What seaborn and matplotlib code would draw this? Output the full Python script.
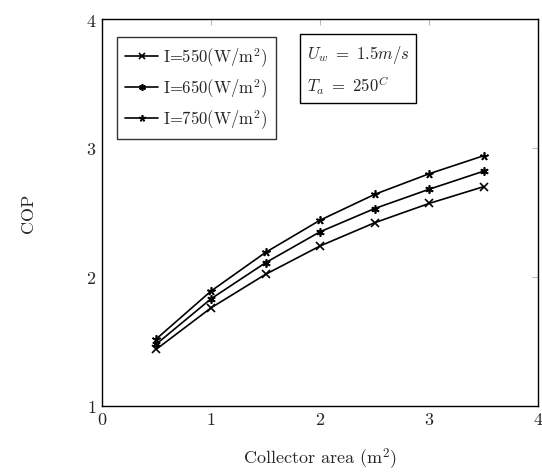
import pandas as pd
import numpy as np
import matplotlib
matplotlib.use("Agg")
import matplotlib.pyplot as plt
import seaborn as sns

# collector area (m^2)
area = [0.5, 1.0, 1.5, 2.0, 2.5, 3.0, 3.5]
# COP for each irradiance
cop_550 = [1.44, 1.76, 2.02, 2.24, 2.42, 2.57, 2.70]
cop_650 = [1.48, 1.83, 2.11, 2.35, 2.53, 2.68, 2.82]
cop_750 = [1.52, 1.89, 2.19, 2.44, 2.64, 2.80, 2.94]
labels = ["I=550(W/m$^2$)", "I=650(W/m$^2$)", "I=750(W/m$^2$)"]

df = pd.DataFrame({
    "area": area * 3,
    "cop": cop_550 + cop_650 + cop_750,
    "series": [labels[0]] * 7 + [labels[1]] * 7 + [labels[2]] * 7,
})

sns.set_style("white")
plt.rcParams["font.family"] = "serif"
plt.rcParams["font.serif"] = ["cmr10", "DejaVu Serif"]
plt.rcParams["mathtext.fontset"] = "cm"
plt.rcParams["axes.formatter.use_mathtext"] = True

fig = plt.figure(figsize=(5.42, 4.77), dpi=100)
ax = fig.add_axes([0.188, 0.147, 0.805, 0.811])

markers = {labels[0]: "x", labels[1]: (6, 2, 0), labels[2]: (5, 2, 0)}
sns.lineplot(data=df, x="area", y="cop", style="series", markers=markers,
             dashes=False, color="black", linewidth=1.2, markersize=6,
             markeredgewidth=1.2, markeredgecolor="black", ax=ax)

ax.set_xlim(0, 4)
ax.set_ylim(1, 4)
ax.set_xticks([0, 1, 2, 3, 4])
ax.set_yticks([1, 2, 3, 4])
ax.tick_params(direction="in", top=True, right=True, length=4,
               color="#bbbbbb", labelsize=13, pad=4)
for s in ax.spines.values():
    s.set_color("black")
    s.set_linewidth(1.0)

ax.set_xlabel("Collector area (m$^2$)", fontsize=13, labelpad=13)
ax.set_ylabel("COP", fontsize=13, labelpad=36)

leg = ax.legend(loc="upper left", bbox_to_anchor=(0.015, 0.975), fontsize=12,
                frameon=True, fancybox=False, edgecolor="black",
                handlelength=2.0, handletextpad=0.3, borderpad=0.5,
                labelspacing=0.45, markerscale=0.8)
leg.get_frame().set_linewidth(1.0)

ax.text(0.47, 0.938, "$U_w\\ =\\ 1.5m/s$\n$T_a\\ =\\ 250^C$", transform=ax.transAxes,
        fontsize=12, va="top", ha="left", linespacing=1.5,
        bbox=dict(boxstyle="square,pad=0.4", fc="white", ec="black", lw=1.0))

fig.savefig("out.png", dpi=100)
